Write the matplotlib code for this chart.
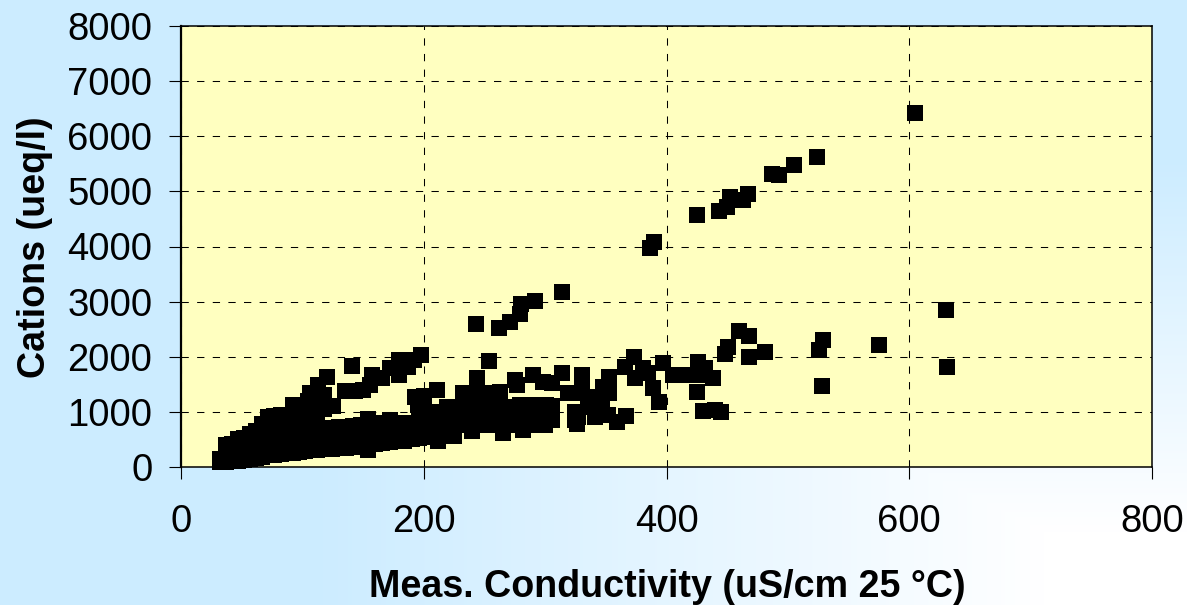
import numpy as np
import matplotlib
matplotlib.use('Agg')
import matplotlib.pyplot as plt

plt.rcParams['font.family'] = ['Liberation Sans', 'DejaVu Sans']

dense_cond = [32, 32, 37, 37, 37, 42, 42, 42, 47, 47, 47, 52, 52, 52, 57, 57, 57,
              62, 62, 62, 67, 67, 67, 67, 72, 72, 72, 72, 77, 77, 77, 77,
              82, 82, 82, 82, 87, 87, 87, 87, 92, 92, 92, 92, 92,
              97, 97, 97, 97, 97, 102, 102, 102, 102, 107, 107, 107, 107,
              112, 112, 112, 112, 118, 118, 118, 118, 124, 124, 124,
              130, 130, 130, 136, 136, 136, 142, 142, 142, 148, 148, 148,
              154, 154, 154, 154, 160, 160, 160, 166, 166, 166, 172, 172, 172,
              178, 178, 178, 184, 184, 184, 190, 190, 190, 196, 196, 196,
              202, 202, 202, 208, 208, 208]
dense_cat = [90, 150, 90, 250, 400, 100, 250, 420, 110, 300, 500, 130, 320, 520, 150, 350, 600,
             170, 400, 650, 190, 400, 620, 780, 210, 450, 700, 900, 220, 450, 700, 930,
             240, 500, 750, 950, 250, 500, 750, 950, 260, 500, 750, 1000, 1130,
             270, 500, 750, 1000, 1100, 290, 500, 750, 900, 300, 500, 750, 950,
             310, 500, 700, 1000, 320, 500, 700, 1050, 330, 500, 700,
             340, 500, 720, 350, 500, 720, 360, 550, 740, 380, 550, 760,
             300, 550, 800, 870, 420, 600, 780, 430, 600, 800, 450, 620, 850,
             470, 640, 800, 480, 650, 780, 500, 680, 800, 520, 700, 830,
             540, 720, 850, 560, 720, 880]

# upper branch leaving the cluster
branch_cond = [106, 113, 120, 118, 112, 125, 105, 135, 141, 143, 150, 156, 157, 166, 172, 180, 180, 187, 198, 192]
branch_cat = [1340, 1490, 1630, 1300, 1150, 1100, 1200, 1380, 1830, 1380, 1390, 1490, 1670, 1615, 1800, 1940, 1670, 1815, 2030, 1950]

# scatter to the right of the cluster
mid_cond = [193, 195, 200, 202, 205, 208, 210, 212, 214, 219, 219, 219, 225, 230, 230, 230,
            240, 240, 240, 240, 252, 252, 252, 263, 263, 265, 265, 279, 279, 279, 282,
            290, 290, 290, 301, 301, 300, 306, 306,
            211, 232, 249, 263, 244, 275, 277, 290, 298, 306, 314, 319, 329, 330, 330, 325, 325,
            348, 341, 353, 340, 341, 327, 326, 352, 359, 367, 353, 366, 373, 374, 381, 385,
            389, 394, 397, 405, 417, 425, 426, 432, 438, 425, 430, 440, 445,
            240, 256, 225, 225, 225, 235, 235, 246, 246, 246, 258, 258, 258,
            271, 271, 271, 285, 285, 296, 296, 296, 335, 347, 347, 200]
mid_cat = [1270, 1125, 1050, 850, 650, 1000, 800, 480, 620, 1090, 910, 760, 560, 1090, 910, 760,
           1090, 910, 760, 650, 1090, 910, 760, 1050, 910, 760, 625, 1125, 910, 760, 670,
           1125, 910, 760, 1125, 910, 760, 1100, 860,
           1400, 1340, 1340, 1360, 1615, 1580, 1490, 1670, 1540, 1520, 1700, 1340, 1340, 1670, 1540, 850, 1000,
           1450, 1270, 1340, 1090, 910, 910, 780, 940, 820, 925, 1640, 1815, 2000, 1615, 1795, 1700,
           1430, 1180, 1890, 1670, 1670, 1670, 1900, 1795, 1615, 1360, 1020, 1030, 990,
           1340, 1340, 1090, 910, 760, 1090, 910, 1090, 910, 760, 1090, 910, 760,
           1090, 910, 760, 1125, 910, 1125, 910, 760, 1190, 1090, 1200, 1280]

# isolated points, lower trend
low_cond = [254, 448, 451, 460, 468, 468, 481, 526, 529, 528, 575, 630, 631]
low_cat = [1925, 2050, 2180, 2468, 2380, 1990, 2080, 2120, 2300, 1470, 2210, 2850, 1810]

# isolated points, steep trend
high_cond = [243, 262, 271, 279, 280, 292, 314, 386, 390, 425, 443, 450, 452, 463, 467, 487, 493, 505, 524, 605]
high_cat = [2595, 2520, 2630, 2780, 2950, 3020, 3170, 3970, 4080, 4570, 4650, 4720, 4900, 4850, 4950, 5320, 5290, 5470, 5620, 6430]

x_ticks = [0, 200, 400, 600, 800]
y_ticks = [0, 1000, 2000, 3000, 4000, 5000, 6000, 7000, 8000]

W, H = 1187, 605
fig = plt.figure(figsize=(W / 100, H / 100), dpi=100)

# background: light blue fading to white towards the bottom right corner
bg = fig.add_axes([0, 0, 1, 1], zorder=0)
bg.set_axis_off()
u, v = np.meshgrid(np.linspace(1, 0, W), np.linspace(1, 0, H))
t = np.clip((np.maximum(u, v) - 0.12) / 0.62, 0, 1)[..., None]
img = (1 - t) * np.array([1.0, 1.0, 1.0]) + t * np.array([0xCC, 0xEC, 0xFF]) / 255
bg.imshow(img, aspect='auto', interpolation='bilinear')

ax = fig.add_axes([181 / W, (H - 467) / H, 971 / W, 441 / H], zorder=1)
ax.set_facecolor('#FFFFC0')

cond = dense_cond + branch_cond + mid_cond + low_cond + high_cond
cat = dense_cat + branch_cat + mid_cat + low_cat + high_cat
ax.scatter(cond, cat, marker='s', s=122, color='black', linewidths=0, clip_on=False, zorder=3)

ax.set_xlim(0, 800)
ax.set_ylim(0, 8000)
ax.set_xticks(x_ticks)
ax.set_yticks(y_ticks)
ax.grid(True, color='black', linewidth=0.75, linestyle=(0, (7, 8)), dash_capstyle='butt')
ax.set_axisbelow(True)
ax.tick_params(axis='both', direction='out', length=8.6, width=0.8, labelsize=27.5, color='black')
ax.tick_params(axis='x', pad=18)
ax.tick_params(axis='y', pad=12)

for name, lw in [('left', 1.6), ('bottom', 1.1), ('top', 1.1), ('right', 1.1)]:
    ax.spines[name].set_linewidth(lw)
    ax.spines[name].set_zorder(4)

fig.text(667 / W, 1 - 587 / H, 'Meas. Conductivity (uS/cm 25 °C)', ha='center', va='center',
         fontsize=27.1, fontweight='bold')
fig.text(35 / W, 1 - 247 / H, 'Cations (ueq/l)', ha='center', va='center', rotation=90,
         fontsize=27.1, fontweight='bold')

fig.savefig('out.png', dpi=100)
